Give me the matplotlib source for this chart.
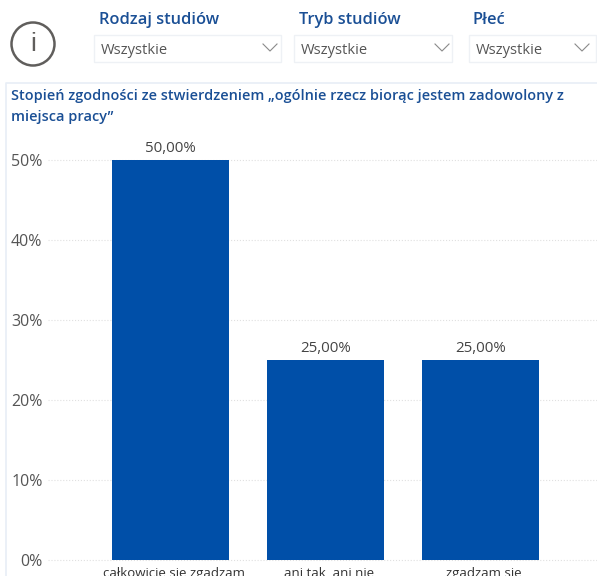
import matplotlib
matplotlib.use('Agg')
import matplotlib.pyplot as plt
from matplotlib.patches import Rectangle, Circle
from matplotlib.transforms import ScaledTranslation

plt.rcParams['font.family'] = ['Open Sans', 'DejaVu Sans']

categories = ['całkowicie się zgadzam', 'ani tak, ani nie', 'zgadzam się']
values = [50, 25, 25]
value_labels = ['50,00%', '25,00%', '25,00%']
y_ticks = [0, 10, 20, 30, 40, 50]
filter_names = ['Rodzaj studiów', 'Tryb studiów', 'Płeć']
filter_value = 'Wszystkie'
title = 'Stopień zgodności ze stwierdzeniem „ogólnie rzecz biorąc jestem zadowolony z\nmiejsca pracy”'

W, H = 597, 576
blue = '#004fa8'
title_blue = '#1a4f95'
grey = '#555555'

fig = plt.figure(figsize=(W / 100, H / 100), dpi=100)

# overlay in pixel coordinates for the slicers and card frame
bg = fig.add_axes([0, 0, 1, 1])
bg.set_xlim(0, W)
bg.set_ylim(H, 0)
bg.axis('off')

# info icon
bg.add_patch(Circle((33, 44), 21.5, fill=False, ec='#605e5c', lw=1.8))
bg.text(33, 44, 'i', ha='center', va='center', fontsize=19, color='#605e5c',
        family=['Liberation Sans'])

# slicers
name_x = [98, 298, 472]
box_x = [95, 295, 470]
box_w = [187, 158, 127]
chevron_x = [270, 442, 582]
for n, nx, bx, bw, cx in zip(filter_names, name_x, box_x, box_w, chevron_x):
    bg.text(nx + 1, 20, n, ha='left', va='center', fontsize=11.8, color=title_blue, weight='semibold')
    bg.add_patch(Rectangle((bx - 1, 35), bw, 27, fill=False, ec='#eef1f5', lw=1))
    bg.text(bx + 6, 51, filter_value, ha='left', va='center', fontsize=10.6, color=grey)
    bg.plot([cx - 7, cx, cx + 7], [44, 51, 44], color='#8a8a8a', lw=0.8)

# card frame
bg.plot([6, 6, W], [H, 82.5, 82.5], color='#e8eef6', lw=1.2)

bg.text(11, 96, title.split('\n')[0], ha='left', va='center', fontsize=10.45,
        color=title_blue, weight='semibold')
bg.text(11, 117, title.split('\n')[1], ha='left', va='center', fontsize=10.45,
        color=title_blue, weight='semibold')

# chart
ax = fig.add_axes([48 / W, (H - 560) / H, (W - 48) / W, (560 - 159.6) / H])
ax.patch.set_alpha(0)
ax.bar(range(3), values, width=0.755, color=blue, zorder=3)
ax.set_xlim(-0.79, 2.75)
ax.set_ylim(0, 50)
ax.set_yticks(y_ticks)
ax.set_yticklabels([str(t) + '%' for t in y_ticks], fontsize=11.5, color=grey)
ax.set_xticks(range(3))
ax.set_xticklabels(categories, fontsize=9.5, color='#333333')
ax.tick_params(length=0)
ax.tick_params(axis='x', pad=5)
ax.tick_params(axis='y', pad=4)
ax.grid(axis='y', color='#e0e0e0', ls=':', lw=0.8, zorder=0)
ax.set_axisbelow(True)
for s in ax.spines.values():
    s.set_visible(False)
for g in ax.get_ygridlines():
    g.set_clip_on(False)

# category labels sit a little right of the bar centres
for lab in ax.get_xticklabels():
    lab.set_transform(lab.get_transform() + ScaledTranslation(3 / 100, 0, fig.dpi_scale_trans))

for i, v in enumerate(values):
    ax.text(i, v + 0.45, value_labels[i], ha='center', va='bottom', fontsize=10.8, color='#444444')

fig.savefig('out.png', dpi=100)
